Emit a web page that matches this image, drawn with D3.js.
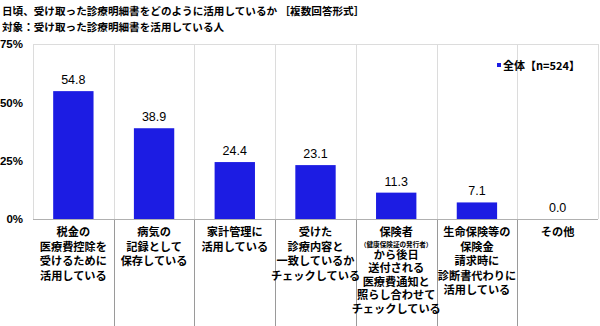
<!DOCTYPE html>
<html>
<head>
<meta charset="utf-8">
<script src="https://cdn.jsdelivr.net/npm/d3@7"></script>
<style>
  html, body { margin: 0; padding: 0; background: #fff; }
  svg { display: block; }
  text { font-family: "Noto Sans CJK JP", "Noto Sans", sans-serif; }
  .num { font-family: "Liberation Sans", Arial, sans-serif; }
</style>
</head>
<body>
<svg id="chart" width="600" height="326"></svg>
<script>
// Chart content
const titleLines = [
  "日頃、受け取った診療明細書をどのように活用しているか ［複数回答形式］",
  "対象：受け取った診療明細書を活用している人"
];
const seriesName = "全体【n=524】";
const categories = [
  "税金の\n医療費控除を\n受けるために\n活用している",
  "病気の\n記録として\n保存している",
  "家計管理に\n活用している",
  "受けた\n診療内容と\n一致しているか\nチェックしている",
  "保険者\n（健康保険証の発行者）\nから後日\n送付される\n医療費通知と\n照らし合わせて\nチェックしている",
  "生命保険等の\n保険金\n請求時に\n診断書代わりに\n活用している",
  "その他"
];
const values = [54.8, 38.9, 24.4, 23.1, 11.3, 7.1, 0.0];
const yTicks = [0, 25, 50, 75];

const svg = d3.select("#chart");
const plot = { left: 33, right: 598, top: 44, bottom: 219 };
const barColor = "#1c1ce3";

const x = d3.scaleBand().domain(categories).range([plot.left, plot.right]).paddingInner(0.5).paddingOuter(0.25);
const xCell = d3.scaleBand().domain(categories).range([plot.left, plot.right]).padding(0);
const y = d3.scaleLinear().domain([0, 75]).range([plot.bottom, plot.top]);

// Title
svg.append("g").selectAll("text").data(titleLines).join("text")
  .attr("x", 2).attr("y", (d, i) => 15 + i * 16)
  .attr("font-size", 10.6).attr("font-weight", 700).attr("fill", "#000")
  .text(d => d);

// Plot frame and category gridlines
const grid = svg.append("g");
grid.append("line").attr("x1", plot.left).attr("x2", plot.right).attr("y1", plot.top).attr("y2", plot.top)
  .attr("stroke", "#dcdcdc").attr("stroke-width", 1).attr("shape-rendering", "crispEdges");
const bounds = categories.map(c => xCell(c)).concat([plot.right]);
grid.selectAll("line.v").data(bounds).join("line").attr("class", "v")
  .attr("x1", d => Math.round(d) + 0.5).attr("x2", d => Math.round(d) + 0.5)
  .attr("y1", plot.top).attr("y2", plot.bottom)
  .attr("stroke", "#dcdcdc").attr("stroke-width", 1);

// Separators under the axis between categories
grid.selectAll("line.s").data(bounds.slice(1, -1)).join("line").attr("class", "s")
  .attr("x1", d => Math.round(d) + 0.5).attr("x2", d => Math.round(d) + 0.5)
  .attr("y1", plot.bottom).attr("y2", 326)
  .attr("stroke", "#9a9a9a").attr("stroke-width", 1);

// Bars
svg.append("g").selectAll("rect").data(values).join("rect")
  .attr("x", (d, i) => x(categories[i]))
  .attr("width", x.bandwidth())
  .attr("y", d => y(d))
  .attr("height", d => y(0) - y(d))
  .attr("fill", barColor);

// Value labels
svg.append("g").selectAll("text").data(values).join("text")
  .attr("class", "num")
  .attr("x", (d, i) => x(categories[i]) + x.bandwidth() / 2)
  .attr("y", d => y(d) - 7)
  .attr("text-anchor", "middle").attr("font-size", 12.5).attr("fill", "#000")
  .text(d => d.toFixed(1));

// Axis baseline
svg.append("line").attr("x1", plot.left).attr("x2", plot.right)
  .attr("y1", plot.bottom + 0.5).attr("y2", plot.bottom + 0.5)
  .attr("stroke", "#b0b0b0").attr("stroke-width", 1);

// Y axis
const yAxis = svg.append("g").attr("transform", `translate(${plot.left},0)`)
  .call(d3.axisLeft(y).tickValues(yTicks).tickFormat(d => d + "%").tickSize(0).tickPadding(10));
yAxis.select(".domain").remove();
yAxis.selectAll("text").attr("class", "num").attr("font-size", 11.5).attr("font-weight", 700).attr("fill", "#000");

// Category labels
const labelG = svg.append("g");
categories.forEach((c, i) => {
  const lines = c.split("\n");
  const hasNote = lines.some(l => l.startsWith("（"));
  const step = hasNote ? 13.6 : 14.6;
  const cx = xCell(c) + xCell.bandwidth() / 2;
  let yy = 236;
  const t = labelG.append("text").attr("text-anchor", "middle").attr("fill", "#000").attr("font-weight", 700);
  lines.forEach((l, j) => {
    const note = l.startsWith("（");
    if (j > 0) yy += note ? 11.5 : (lines[j - 1].startsWith("（") ? 11 : step);
    t.append("tspan").attr("x", cx).attr("y", yy + (note ? -1 : 0))
      .attr("font-size", note ? 6.6 : 11.2)
      .text(l);
  });
});

// Legend
const legend = svg.append("g");
legend.append("rect").attr("x", 497).attr("y", 63).attr("width", 4).attr("height", 4).attr("fill", barColor);
legend.append("text").attr("x", 503).attr("y", 69.5)
  .attr("font-size", 11).attr("font-weight", 700).attr("fill", "#000").text(seriesName);
</script>
</body>
</html>
